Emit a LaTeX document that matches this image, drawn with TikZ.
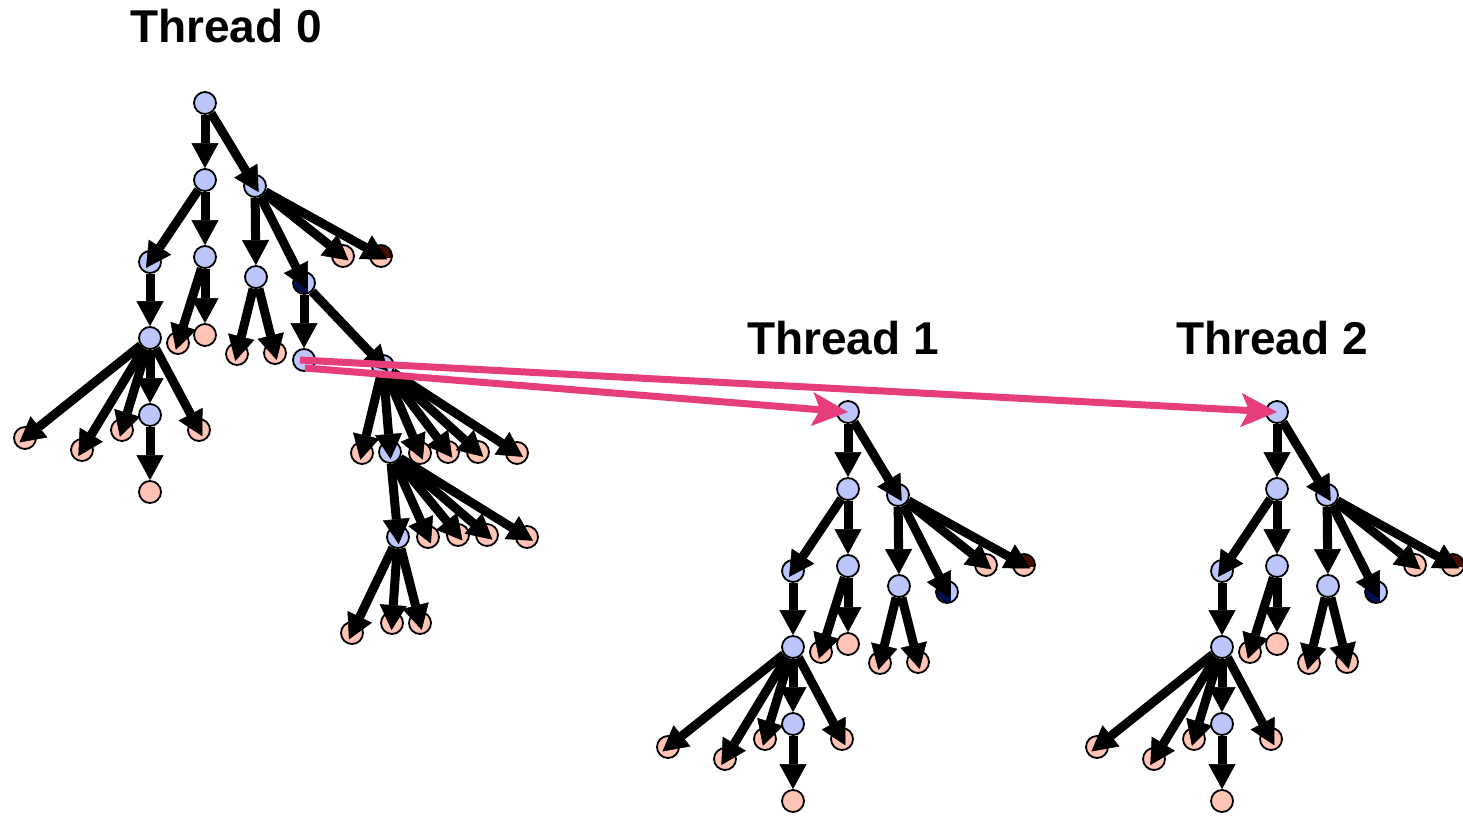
\documentclass[tikz,border=0pt]{standalone}
\usepackage{fontspec}
\setmainfont{Liberation Sans}
\usetikzlibrary{arrows.meta}

\definecolor{nodeblue}{HTML}{BCC6FA}
\definecolor{nodesalmon}{HTML}{FFC4B5}
\definecolor{nodenavy}{HTML}{00104C}
\definecolor{nodebrown}{HTML}{4A0D02}
\definecolor{spawnpink}{HTML}{E63E7B}

\tikzset{
  vx/.style={circle, draw=black, line width=1.8pt, minimum size=22pt, inner sep=0pt},
  bl/.style={vx, fill=nodeblue},
  sa/.style={vx, fill=nodesalmon},
  nv/.style={vx, fill=nodenavy,
    path picture={\fill[nodeblue] ([xshift=4pt]path picture bounding box.south) rectangle (path picture bounding box.north east);}},
  br/.style={vx, fill=nodesalmon,
    path picture={\fill[nodebrown] (path picture bounding box.north west) rectangle ([yshift=-2pt]path picture bounding box.east);}},
  tree/.style={line width=9pt, -{Triangle[length=25pt,width=27pt,line width=0.5pt]}},
  ev/.style={tree},
  ed/.style={tree, shorten >=-19pt},
  spawn/.style={draw=spawnpink, line width=7pt, -{Stealth[length=36pt,width=34pt,inset=8pt,line width=0.5pt]}},
  lbl/.style={font=\bfseries\fontsize{46}{55}\selectfont, inner sep=0pt}
}

% the part of the task tree that every thread holds
\newcommand\threadtree{%
  \node[bl] (r)  at (205,103) {};
  \node[bl] (b)  at (205,180) {};
  \node[bl] (c)  at (255,186) {};
  \node[bl] (d)  at (150,262) {};
  \node[bl] (e)  at (205,257) {};
  \node[bl] (f)  at (256,277) {};
  \node[nv] (g)  at (304,283) {};
  \node[sa] (h)  at (343,256) {};
  \node[br] (i)  at (381,256) {};
  \node[bl] (j)  at (150,338) {};
  \node[sa] (k)  at (178,343) {};
  \node[sa] (l)  at (205,335) {};
  \node[sa] (m)  at (237,354) {};
  \node[sa] (n)  at (275,353) {};
  \node[sa] (q1) at (25,438) {};
  \node[sa] (q2) at (82,450) {};
  \node[sa] (q3) at (122,430) {};
  \node[bl] (w)  at (150,415) {};
  \node[sa] (q4) at (199,430) {};
  \node[sa] (s)  at (150,492) {};
  \draw[ev] (r) -- (b);
  \draw[ed] (r) -- (c);
  \draw[ed] (b) -- (d);
  \draw[ev] (b) -- (e);
  \draw[ev] (c) -- (f);
  \draw[ed] (c) -- (g);
  \draw[ed] (c) -- (h);
  \draw[ed] (c) -- (i);
  \draw[ev] (d) -- (j);
  \draw[ed] (e) -- (k);
  \draw[ev] (e) -- (l);
  \draw[ed] (f) -- (m);
  \draw[ed] (f) -- (n);
  \draw[ed] (j) -- (q1);
  \draw[ed] (j) -- (q2);
  \draw[ed] (j) -- (q3);
  \draw[ev] (j) -- (w);
  \draw[ed] (j) -- (q4);
  \draw[ev] (w) -- (s);
}

\begin{document}
\begin{tikzpicture}[x=1pt, y=-1pt]
  \useasboundingbox (0,0) rectangle (1463,821);

  % thread 0: the shared tree plus the subtree below the navy task
  \begin{scope}[name prefix=t0-]
    \threadtree
    \node[bl] (o)  at (304,360) {};
    \node[bl] (p)  at (383,366) {};
    \node[sa] (p1) at (362,453) {};
    \node[bl] (t)  at (390,452) {};
    \node[sa] (p2) at (420,453) {};
    \node[sa] (p3) at (448,452) {};
    \node[sa] (p4) at (478,452) {};
    \node[sa] (p5) at (517,453) {};
    \node[bl] (u)  at (398,537) {};
    \node[sa] (t1) at (428,537) {};
    \node[sa] (t2) at (458,535) {};
    \node[sa] (t3) at (487,535) {};
    \node[sa] (t4) at (527,537) {};
    \node[sa] (u1) at (352,633) {};
    \node[sa] (u2) at (392,623) {};
    \node[sa] (u3) at (420,623) {};
    \draw[ev] (g) -- (o);
    \draw[ed] (g) -- (p);
    \draw[ed] (p) -- (p1);
    \draw[ed] (p) -- (t);
    \draw[ed] (p) -- (p2);
    \draw[ed] (p) -- (p3);
    \draw[ed] (p) -- (p4);
    \draw[ed] (p) -- (p5);
    \draw[ed] (t) -- (u);
    \draw[ed] (t) -- (t1);
    \draw[ed] (t) -- (t2);
    \draw[ed] (t) -- (t3);
    \draw[ed] (t) -- (t4);
    \draw[ed] (u) -- (u1);
    \draw[ed] (u) -- (u2);
    \draw[ed] (u) -- (u3);
  \end{scope}

  % threads 1 and 2
  \begin{scope}[shift={(643,309)}, name prefix=t1-]
    \threadtree
  \end{scope}
  \begin{scope}[shift={(1072,309)}, name prefix=t2-]
    \threadtree
  \end{scope}

  % spawn edges
  \draw[spawn] ([shift={(-4,0)}]t0-o.center) -- (t2-r.center);
  \draw[spawn] ([shift={(1,8)}]t0-o.center) -- (t1-r.center);

  \node[lbl] (lab0) at (226,26)  {Thread 0};
  \node[lbl] (lab1) at (843,338) {Thread 1};
  \node[lbl] (lab2) at (1272,338) {Thread 2};
\end{tikzpicture}
\end{document}
